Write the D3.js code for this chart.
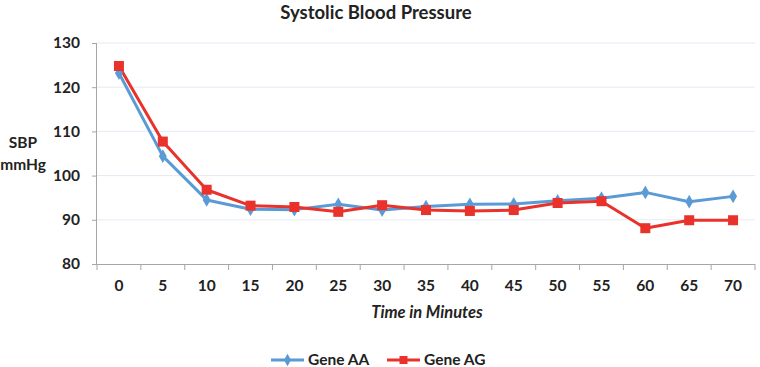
<!DOCTYPE html>
<html><head><meta charset="utf-8">
<script src="https://cdn.jsdelivr.net/npm/d3@7"></script>
<style>body{margin:0;background:#fff;} text{font-family:Lato,"Open Sans",sans-serif;}</style>
</head><body><svg id="c" width="760" height="367"></svg>
<script>
const categories = ["0","5","10","15","20","25","30","35","40","45","50","55","60","65","70"];
const geneAA = [123.2,104.4,94.5,92.4,92.3,93.5,92.2,93.0,93.5,93.6,94.3,94.9,96.2,94.1,95.3];
const geneAG = [124.8,107.7,96.8,93.2,92.9,91.8,93.3,92.2,92.0,92.2,93.8,94.2,88.1,89.9,89.9];
const yTicks = [80,90,100,110,120,130];
const seriesNames = ["Gene AA","Gene AG"];
const colors = ["#5b9bd5","#e8322b"];

const svg = d3.select("#c");
const L=97, R=755, T=43, B=264;
const x = d3.scaleBand().domain(categories).range([L,R]);
const y = d3.scaleLinear().domain([80,130]).range([B,T]);

// gridlines
svg.append("g").selectAll("line").data(yTicks.slice(1)).join("line")
  .attr("x1",L).attr("x2",R).attr("y1",d=>y(d)).attr("y2",d=>y(d))
  .attr("stroke","#e3ebf3").attr("stroke-width",1);

// y axis
const ya = svg.append("g").attr("transform",`translate(${L},0)`)
  .call(d3.axisLeft(y).tickValues(yTicks).tickSize(5).tickPadding(12));
ya.select(".domain").attr("stroke","#a6a6a6").attr("d",`M-0.5,${B}V${T}`);
ya.selectAll(".tick line").attr("stroke","#a6a6a6");
ya.selectAll(".tick text").attr("font-size",15.5).attr("font-weight","bold").attr("fill","#222").attr("font-family","Lato,sans-serif");

// x axis
const xa = svg.append("g").attr("transform",`translate(0,${B})`)
  .call(d3.axisBottom(x).tickSize(0).tickPadding(16));
xa.select(".domain").attr("stroke","#a6a6a6").attr("d",`M${L},0.5H${R}`);
xa.selectAll(".tick text").attr("font-size",15.5).attr("font-weight","bold").attr("fill","#222").attr("font-family","Lato,sans-serif");
svg.append("g").selectAll("line").data(categories.concat(["end"])).join("line")
  .attr("x1",(d,i)=>L+i*x.bandwidth()).attr("x2",(d,i)=>L+i*x.bandwidth())
  .attr("y1",B).attr("y2",B+6).attr("stroke","#a6a6a6");

// lines
const series=[geneAA,geneAG];
const line = d3.line().x((d,i)=>x(categories[i])+x.bandwidth()/2).y(d=>y(d));
series.forEach((s,k)=>{
  svg.append("path").datum(s).attr("d",line).attr("fill","none")
    .attr("stroke",colors[k]).attr("stroke-width",3).attr("stroke-linejoin","round");
});
// markers
svg.append("g").selectAll("path").data(geneAA).join("path")
  .attr("d",d3.symbol().type(d3.symbolDiamond).size(55))
  .attr("transform",(d,i)=>`translate(${x(categories[i])+x.bandwidth()/2},${y(d)})`)
  .attr("fill",colors[0]);
svg.append("g").selectAll("rect").data(geneAG).join("rect")
  .attr("x",(d,i)=>x(categories[i])+x.bandwidth()/2-5).attr("y",d=>y(d)-5)
  .attr("width",10).attr("height",10).attr("fill",colors[1]);

// title & labels
svg.append("text").attr("x",376).attr("y",19).attr("text-anchor","middle")
  .attr("font-size",18.5).attr("font-weight","bold").attr("fill","#222").text("Systolic Blood Pressure");
svg.append("text").attr("x",23).attr("y",148).attr("text-anchor","middle")
  .attr("font-size",15.5).attr("font-weight","bold").attr("fill","#222").text("SBP");
svg.append("text").attr("x",23).attr("y",170).attr("text-anchor","middle")
  .attr("font-size",15.5).attr("font-weight","bold").attr("fill","#222").text("mmHg");
svg.append("text").attr("x",427).attr("y",318).attr("text-anchor","middle")
  .attr("font-size",16.5).attr("font-weight","bold").attr("font-style","italic").attr("fill","#222").text("Time in Minutes");

// legend
const leg=[{x:271,name:seriesNames[0]},{x:387,name:seriesNames[1]}];
leg.forEach((l,k)=>{
  const g=svg.append("g");
  g.append("line").attr("x1",l.x).attr("x2",l.x+33).attr("y1",360).attr("y2",360)
    .attr("stroke",colors[k]).attr("stroke-width",3);
  if(k===0) g.append("path").attr("d",d3.symbol().type(d3.symbolDiamond).size(45)).attr("transform",`translate(${l.x+16.5},360)`).attr("fill",colors[0]);
  else g.append("rect").attr("x",l.x+12.5).attr("y",356).attr("width",8).attr("height",8).attr("fill",colors[1]);
  g.append("text").attr("x",l.x+37).attr("y",365).attr("font-size",15.5).attr("font-weight","bold").attr("fill","#222").text(l.name);
});
</script></body></html>
